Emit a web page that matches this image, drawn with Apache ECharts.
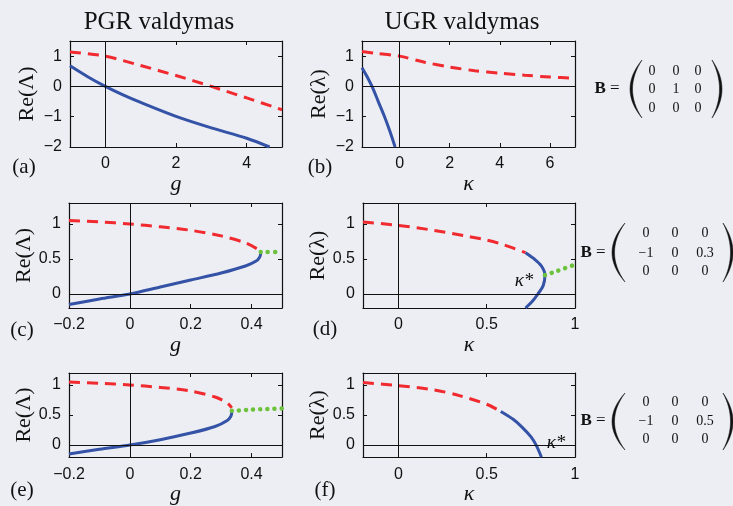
<!DOCTYPE html>
<html>
<head>
<meta charset="utf-8">
<script src="https://cdn.jsdelivr.net/npm/echarts@6/dist/echarts.min.js"></script>
<style>
html, body { margin: 0; padding: 0; background: #eceef4; }
#main { width: 733px; height: 506px; }
</style>
</head>
<body>
<div id="main"></div>
<script>
// ---- tick labels ----
var aXTicks = [0, 2, 4];
var bXTicks = [0, 2, 4, 6];
var topYTicks = [-2, -1, 0, 1];
var gXTicks = [-0.2, 0, 0.2, 0.4];
var kXTicks = [0, 0.5, 1];
var lowYTicks = [0, 0.5, 1];

// ---- (a) PGR, B = diag(0,1,0) ----
var aRed = [[-1, 1.14], [0, 1.0], [1, 0.69], [2, 0.36], [3, 0.0], [4, -0.38], [5, -0.77]];
var aBlue = [[-1, 0.68], [-0.5, 0.32], [0, 0.0], [0.5, -0.28], [1, -0.53], [2, -0.99], [3, -1.37], [4, -1.71], [4.65, -2.0]];

// ---- (b) UGR ----
var bRed = [[-1.5, 1.15], [-1, 1.1], [0, 1.0], [1, 0.8], [2, 0.64], [3, 0.52], [4, 0.44], [5, 0.37], [6, 0.31], [7, 0.27]];
var bBlue = [[-1.5, 0.62], [-1.3, 0.33], [-1.1, 0.0], [-0.85, -0.5], [-0.6, -1.0], [-0.38, -1.5], [-0.18, -2.0]];

// ---- (c) PGR, B32 = 0.3 ----
var cRed = [[-0.2, 1.05], [-0.1, 1.03], [0, 1.0], [0.1, 0.96], [0.2, 0.91], [0.3, 0.83], [0.38, 0.73], [0.42, 0.64], [0.43, 0.6]];
var cBlue = [[-0.2, -0.15], [-0.1, -0.07], [0, 0.0], [0.1, 0.1], [0.2, 0.2], [0.3, 0.3], [0.38, 0.4], [0.415, 0.47], [0.427, 0.53], [0.43, 0.58]];
var cGreen = [[0.43, 0.6], [0.5, 0.6]];

// ---- (d) UGR, B32 = 0.3 ----
var dRed = [[-0.2, 1.03], [0, 0.98], [0.2, 0.91], [0.4, 0.82], [0.5, 0.77], [0.6, 0.7], [0.72, 0.59]];
var dBlue = [[0.72, 0.59], [0.77, 0.5], [0.81, 0.4], [0.83, 0.27], [0.82, 0.12], [0.79, 0.0], [0.76, -0.1], [0.72, -0.2]];
var dGreen = [[0.83, 0.27], [0.9, 0.33], [1, 0.42]];

// ---- (e) PGR, B32 = 0.5 ----
var eRed = [[-0.2, 1.05], [-0.1, 1.03], [0, 1.0], [0.1, 0.96], [0.2, 0.9], [0.28, 0.8], [0.32, 0.7], [0.335, 0.62]];
var eBlue = [[-0.2, -0.15], [-0.1, -0.07], [0, 0.0], [0.1, 0.09], [0.2, 0.2], [0.28, 0.31], [0.32, 0.41], [0.332, 0.48], [0.335, 0.55]];
var eGreen = [[0.335, 0.57], [0.4, 0.59], [0.5, 0.61]];

// ---- (f) UGR, B32 = 0.5 ----
var fRed = [[-0.2, 1.04], [0, 0.99], [0.2, 0.92], [0.35, 0.82], [0.5, 0.68], [0.58, 0.56]];
var fBlue = [[0.58, 0.56], [0.65, 0.43], [0.7, 0.3], [0.75, 0.14], [0.78, 0.0], [0.81, -0.2]];

var RED = '#f02a2e', BLUE = '#3452a6', GREEN = '#6cc23c';
var SANS = 'Liberation Sans, Arial, sans-serif';
var SERIF = 'Liberation Serif, Times New Roman, serif';

var chart = echarts.init(document.getElementById('main'));

var option = {
    backgroundColor: '#eceef4',
    animation: false,
    grid: [], xAxis: [], yAxis: [], series: [], graphic: []
};

function minusFmt(v) {
    return String(v).replace('-', '\u2212');
}

function addPanel(rect, xr, yr, xt, yt, xName, yName, red, blue, green) {
    var gi = option.grid.length;
    option.grid.push({left: rect[0], top: rect[1], width: rect[2], height: rect[3]});
    var xi = option.xAxis.length, yi = option.yAxis.length;
    ['bottom', 'top'].forEach(function (pos, k) {
        option.xAxis.push({
            type: 'value', gridIndex: gi, position: pos, min: xr[0], max: xr[1],
            name: k === 0 ? xName : '', nameLocation: 'middle', nameGap: 22,
            nameTextStyle: {fontFamily: SERIF, fontStyle: 'italic', fontSize: 22, color: '#111'},
            axisLine: {show: true, onZero: false, lineStyle: {color: '#111', width: 1.2}},
            axisTick: {show: true, inside: true, length: 4, customValues: xt, lineStyle: {color: '#111'}},
            axisLabel: {show: k === 0, customValues: xt, margin: 9, fontFamily: SANS, fontSize: 16, color: '#111', formatter: minusFmt},
            splitLine: {show: false}
        });
    });
    ['left', 'right'].forEach(function (pos, k) {
        option.yAxis.push({
            type: 'value', gridIndex: gi, position: pos, min: yr[0], max: yr[1],
            name: k === 0 ? yName : '', nameLocation: 'middle', nameGap: 32, nameRotate: 90,
            nameTextStyle: {fontFamily: SERIF, fontSize: 22, color: '#111'},
            axisLine: {show: true, onZero: false, lineStyle: {color: '#111', width: 1.2}},
            axisTick: {show: true, inside: true, length: 4, customValues: yt, lineStyle: {color: '#111'}},
            axisLabel: {show: k === 0, customValues: yt, margin: 8, fontFamily: SANS, fontSize: 16, color: '#111', formatter: minusFmt},
            splitLine: {show: false}
        });
    });
    option.series.push({
        type: 'line', xAxisIndex: xi, yAxisIndex: yi, data: [], z: 1,
        markLine: {
            silent: true, symbol: 'none', label: {show: false},
            lineStyle: {color: '#111', type: 'solid', width: 1},
            data: [{xAxis: 0}, {yAxis: 0}]
        }
    });
    option.series.push({
        type: 'line', xAxisIndex: xi, yAxisIndex: yi, data: red, showSymbol: false, smooth: 0.3, z: 3,
        lineStyle: {color: RED, width: 3, type: [11, 7]}
    });
    option.series.push({
        type: 'line', xAxisIndex: xi, yAxisIndex: yi, data: blue, showSymbol: false, smooth: 0.3, z: 3,
        lineStyle: {color: BLUE, width: 3}
    });
    if (green) {
        option.series.push({
            type: 'line', xAxisIndex: xi, yAxisIndex: yi, data: green, showSymbol: false, smooth: 0.3, z: 3,
            lineStyle: {color: GREEN, width: 4.5, type: [0.1, 7], cap: 'round'}
        });
    }
}

addPanel([70, 41, 212, 106], [-1, 5], [-2, 1.5], aXTicks, topYTicks, 'g', 'Re(\u039B)', aRed, aBlue, null);
addPanel([362, 41, 213, 106], [-1.5, 7], [-2, 1.5], bXTicks, topYTicks, '\u03BA', 'Re(\u03BB)', bRed, bBlue, null);
addPanel([69, 203, 213, 105], [-0.2, 0.5], [-0.2, 1.3], gXTicks, lowYTicks, 'g', 'Re(\u039B)', cRed, cBlue, cGreen);
addPanel([363, 203, 212, 105], [-0.2, 1], [-0.2, 1.3], kXTicks, lowYTicks, '\u03BA', 'Re(\u03BB)', dRed, dBlue, dGreen);
addPanel([69, 373, 213, 97], [-0.2, 0.5], [-0.2, 1.2], gXTicks, lowYTicks, 'g', 'Re(\u039B)', eRed, eBlue, eGreen);
addPanel([363, 373, 212, 97], [-0.2, 1], [-0.2, 1.2], kXTicks, lowYTicks, '\u03BA', 'Re(\u03BB)', fRed, fBlue, null);

function txt(x, y, s, size, extra) {
    var style = {text: s, x: x, y: y, fill: '#111', font: size + 'px ' + SERIF, align: 'center', verticalAlign: 'middle'};
    for (var k in extra) style[k] = extra[k];
    option.graphic.push({type: 'text', style: style, z: 10});
}

// column titles
txt(159, 22, 'PGR valdymas', 25);
txt(462, 22, 'UGR valdymas', 25);

// panel letters
txt(24, 167, '(a)', 21);
txt(320, 167, '(b)', 21);
txt(22, 330, '(c)', 21);
txt(325, 329, '(d)', 21);
txt(22, 490, '(e)', 21);
txt(325, 490, '(f)', 21);

// kappa star labels
txt(524, 281, '\u03BA*', 19, {font: 'italic 19px ' + SERIF});
txt(556, 443, '\u03BA*', 19, {font: 'italic 19px ' + SERIF});

// matrices
var m1 = [['0', '0', '0'], ['0', '1', '0'], ['0', '0', '0']];
var m2 = [['0', '0', '0'], ['\u22121', '0', '0.3'], ['0', '0', '0']];
var m3 = [['0', '0', '0'], ['\u22121', '0', '0.5'], ['0', '0', '0']];

// crescent shaped bracket drawn as polygon
function paren(xTop, xOut, xIn, y0, y1) {
    var ym = (y0 + y1) / 2, n = 16, pts = [], t, i;
    var cOut = 2 * xOut - xTop, cIn = 2 * xIn - xTop;
    for (i = 0; i <= n; i++) {
        t = i / n;
        pts.push([(1 - t) * (1 - t) * xTop + 2 * t * (1 - t) * cOut + t * t * xTop,
            (1 - t) * (1 - t) * y0 + 2 * t * (1 - t) * ym + t * t * y1]);
    }
    for (i = n; i >= 0; i--) {
        t = i / n;
        pts.push([(1 - t) * (1 - t) * xTop + 2 * t * (1 - t) * cIn + t * t * xTop,
            (1 - t) * (1 - t) * y0 + 2 * t * (1 - t) * ym + t * t * y1]);
    }
    option.graphic.push({
        type: 'polygon', z: 10,
        shape: {points: pts},
        style: {fill: '#111', stroke: '#111', lineWidth: 0.5}
    });
}

function matrix(m, bx, cols, rows, lp, rp, y0, y1) {
    option.graphic.push({
        type: 'text', z: 10,
        style: {
            x: bx, y: rows[1], text: '{b|B} =', align: 'center', verticalAlign: 'middle',
            font: '17px ' + SERIF, fill: '#111',
            rich: {b: {fontFamily: SERIF, fontWeight: 'bold', fontSize: 17, fill: '#111'}}
        }
    });
    paren(lp[0], lp[1], lp[2], y0, y1);
    paren(rp[0], rp[1], rp[2], y0, y1);
    for (var r = 0; r < 3; r++) {
        for (var c = 0; c < 3; c++) {
            txt(cols[c], rows[r], m[r][c], 14);
        }
    }
}

matrix(m1, 607, [652, 676, 698], [71, 89, 108], [642, 630, 632.5], [712, 722, 719.5], 60, 118);
matrix(m2, 593, [646, 675, 705], [233, 253, 271], [625, 612, 614.5], [723, 733, 730.5], 223, 282);
matrix(m3, 593, [646, 675, 705], [402, 421, 439], [625, 612, 614.5], [723, 733, 730.5], 393, 450);

chart.setOption(option);
</script>
</body>
</html>
